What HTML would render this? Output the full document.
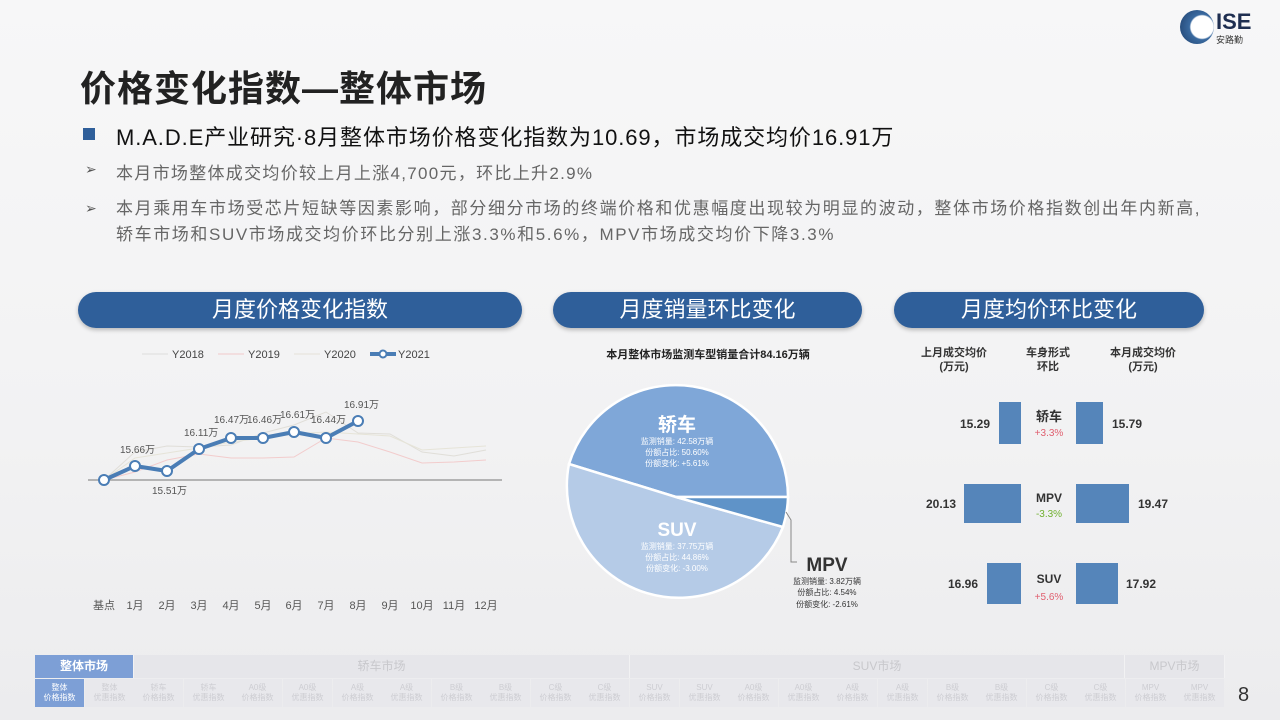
<!DOCTYPE html>
<html><head><meta charset="utf-8"><style>
*{margin:0;padding:0;box-sizing:border-box}
body{width:1280px;height:720px;overflow:hidden;background:linear-gradient(180deg,#f7f7f8 0%,#f2f2f3 60%,#ececee 100%);font-family:"Liberation Sans","Noto Sans CJK SC",sans-serif;position:relative;color:#333}
.a{position:absolute;white-space:nowrap}
.pill{position:absolute;height:36px;border-radius:18px;background:#2f5f9a;color:#fff;font-size:22px;text-align:center;line-height:36px;box-shadow:0 2px 4px rgba(0,0,0,.25)}
.nav1{position:absolute;top:655px;height:23px;font-size:12px;color:#c8c8cc;text-align:center;line-height:23px;background:#e6e6ea;border-right:1px solid #f2f2f3}
.nav2{position:absolute;top:679px;height:28px;width:49px;font-size:8px;line-height:10px;color:#cdcdd2;text-align:center;padding-top:4px;background:#e8e8ec}
</style></head><body>
<div class="a" style="left:80px;top:60px;font-size:36px;font-weight:bold;color:#222;letter-spacing:1px">价格变化指数—整体市场</div>
<div class="a" style="left:1180px;top:10px;width:34px;height:34px;border-radius:50%;background:radial-gradient(circle at 65% 50%,#fff 0 40%,#3a6aa0 45%,#1e3e6a 100%)"></div>
<div class="a" style="left:1216px;top:9px;font-size:22px;font-weight:bold;color:#1e2e50">ISE</div>
<div class="a" style="left:1216px;top:33px;font-size:9px;color:#333">安路勤</div>
<div class="a" style="left:83px;top:128px;width:12px;height:12px;background:#2f5f9a"></div>
<div class="a" style="left:116px;top:120px;font-size:22px;color:#111;letter-spacing:0.9px">M.A.D.E产业研究·8月整体市场价格变化指数为10.69，市场成交均价16.91万</div>
<div class="a" style="left:85px;top:161px;font-size:14px;color:#555">➢</div>
<div class="a" style="left:116px;top:159px;font-size:17px;color:#666;letter-spacing:1.3px">本月市场整体成交均价较上月上涨4,700元，环比上升2.9%</div>
<div class="a" style="left:85px;top:200px;font-size:14px;color:#555">➢</div>
<div class="a" style="left:116px;top:196px;font-size:17px;color:#666;line-height:26px;letter-spacing:1.6px">本月乘用车市场受芯片短缺等因素影响，部分细分市场的终端价格和优惠幅度出现较为明显的波动，整体市场价格指数创出年内新高,<br>轿车市场和SUV市场成交均价环比分别上涨3.3%和5.6%，MPV市场成交均价下降3.3%</div>
<div class="pill" style="left:78px;top:292px;width:444px">月度价格变化指数</div>
<div class="pill" style="left:553px;top:292px;width:309px">月度销量环比变化</div>
<div class="pill" style="left:894px;top:292px;width:310px">月度均价环比变化</div>

<svg class="a" style="left:0;top:0" width="1280" height="720">
<g font-size="11" fill="#444">
<line x1="142" y1="354" x2="168" y2="354" stroke="#ddd"/><text x="172" y="358">Y2018</text>
<line x1="218" y1="354" x2="244" y2="354" stroke="#f0caca"/><text x="248" y="358">Y2019</text>
<line x1="294" y1="354" x2="320" y2="354" stroke="#e6e2d8"/><text x="324" y="358">Y2020</text>
<line x1="370" y1="354" x2="396" y2="354" stroke="#4a7db5" stroke-width="4"/><circle cx="383" cy="354" r="3.5" fill="#fff" stroke="#4a7db5" stroke-width="2"/><text x="398" y="358">Y2021</text>
</g>
<line x1="88" y1="480" x2="502" y2="480" stroke="#777" stroke-width="1"/>
<polyline points="104,480 135,452 167,446 199,447 231,445 263,433 294,425 326,412 358,433 390,434 422,452 454,456 486,450" fill="none" stroke="#e0ded8" stroke-width="1"/>
<polyline points="104,480 135,472 167,460 199,454 231,458 263,458 294,457 326,438 358,442 390,452 422,463 454,462 486,460" fill="none" stroke="#f2cccc" stroke-width="1"/>
<polyline points="104,480 135,458 167,453 199,448 231,442 263,438 294,434 326,432 358,434 390,436 422,450 454,448 486,446" fill="none" stroke="#e6e4d8" stroke-width="1"/>
<polyline points="104,480 135,466 167,471 199,449 231,438 263,438 294,432 326,438 358,421" fill="none" stroke="#4a7db5" stroke-width="4" stroke-linejoin="round"/>
<g fill="#fff" stroke="#4a7db5" stroke-width="2">
<circle cx="104" cy="480" r="5"/><circle cx="135" cy="466" r="5"/><circle cx="167" cy="471" r="5"/><circle cx="199" cy="449" r="5"/><circle cx="231" cy="438" r="5"/><circle cx="263" cy="438" r="5"/><circle cx="294" cy="432" r="5"/><circle cx="326" cy="438" r="5"/><circle cx="358" cy="421" r="5"/></g>
<g font-size="10" fill="#555">
<text x="120" y="453">15.66万</text><text x="152" y="494">15.51万</text><text x="184" y="436">16.11万</text><text x="214" y="423">16.47万</text><text x="247" y="423">16.46万</text><text x="280" y="418">16.61万</text><text x="311" y="423">16.44万</text><text x="344" y="408">16.91万</text>
</g>
<g font-size="11" fill="#555" text-anchor="middle">
<text x="104" y="609">基点</text><text x="135" y="609">1月</text><text x="167" y="609">2月</text><text x="199" y="609">3月</text><text x="231" y="609">4月</text><text x="263" y="609">5月</text><text x="294" y="609">6月</text><text x="326" y="609">7月</text><text x="358" y="609">8月</text><text x="390" y="609">9月</text><text x="422" y="609">10月</text><text x="454" y="609">11月</text><text x="486" y="609">12月</text>
</g>
<text x="708" y="358" font-size="11" font-weight="bold" fill="#222" text-anchor="middle">本月整体市场监测车型销量合计84.16万辆</text>
<g stroke="#fff" stroke-width="2.5">
<path d="M676,497 L788,497 A112,112 0 0 0 569,464 Z" fill="#7fa7d8"/>
<path d="M676,497 L569,464 A112,112 0 0 0 783,527 Z" fill="#b5cbe7"/>
<path d="M676,497 L783,527 A112,112 0 0 0 788,497 Z" fill="#5f93c8"/>
</g>
<polyline points="786,512 791,520 791,562 797,562" fill="none" stroke="#888"/>
<g fill="#fff" text-anchor="middle">
<text x="677" y="431" font-size="19" font-weight="bold">轿车</text>
<text x="677" y="444" font-size="8">监测销量: 42.58万辆</text><text x="677" y="455" font-size="8">份额占比: 50.60%</text><text x="677" y="466" font-size="8">份额变化: +5.61%</text>
<text x="677" y="536" font-size="19" font-weight="bold">SUV</text>
<text x="677" y="549" font-size="8">监测销量: 37.75万辆</text><text x="677" y="560" font-size="8">份额占比: 44.86%</text><text x="677" y="571" font-size="8">份额变化: -3.00%</text>
</g>
<g fill="#333" text-anchor="middle">
<text x="827" y="571" font-size="19" font-weight="bold">MPV</text>
<text x="827" y="584" font-size="8">监测销量: 3.82万辆</text><text x="827" y="595" font-size="8">份额占比: 4.54%</text><text x="827" y="607" font-size="8">份额变化: -2.61%</text>
</g>
<g font-size="11" font-weight="bold" fill="#333" text-anchor="middle">
<text x="954" y="356">上月成交均价</text><text x="954" y="370">(万元)</text>
<text x="1048" y="356">车身形式</text><text x="1048" y="370">环比</text>
<text x="1143" y="356">本月成交均价</text><text x="1143" y="370">(万元)</text>
</g>
<g fill="#5585ba">
<rect x="999" y="402" width="22" height="42"/><rect x="1076" y="402" width="27" height="42"/>
<rect x="964" y="484" width="57" height="39"/><rect x="1076" y="484" width="53" height="39"/>
<rect x="987" y="563" width="34" height="41"/><rect x="1076" y="563" width="42" height="41"/>
</g>
<g font-size="12" font-weight="bold" fill="#333">
<text x="990" y="428" text-anchor="end">15.29</text><text x="1112" y="428">15.79</text>
<text x="956" y="508" text-anchor="end">20.13</text><text x="1138" y="508">19.47</text>
<text x="978" y="588" text-anchor="end">16.96</text><text x="1126" y="588">17.92</text>
</g>
<g text-anchor="middle">
<text x="1049" y="421" font-size="13" font-weight="bold" fill="#333">轿车</text><text x="1049" y="436" font-size="10" fill="#e06070">+3.3%</text>
<text x="1049" y="502" font-size="12" font-weight="bold" fill="#333">MPV</text><text x="1049" y="517" font-size="10" fill="#70b030">-3.3%</text>
<text x="1049" y="583" font-size="12" font-weight="bold" fill="#333">SUV</text><text x="1049" y="600" font-size="10" fill="#e06070">+5.6%</text>
</g>
</svg>

<div class="nav1" style="left:35px;width:99px;background:#7d9fd6;color:#fff;font-weight:bold">整体市场</div>
<div class="nav1" style="left:134px;width:496px">轿车市场</div>
<div class="nav1" style="left:630px;width:495px">SUV市场</div>
<div class="nav1" style="left:1125px;width:100px">MPV市场</div>
<div class="nav2" style="left:35px;background:#7d9fd6;color:#fff">整体<br>价格指数</div>
<div class="nav2" style="left:85px">整体<br>优惠指数</div>
<div class="nav2" style="left:134px">轿车<br>价格指数</div>
<div class="nav2" style="left:184px">轿车<br>优惠指数</div>
<div class="nav2" style="left:233px">A0级<br>价格指数</div>
<div class="nav2" style="left:283px">A0级<br>优惠指数</div>
<div class="nav2" style="left:333px">A级<br>价格指数</div>
<div class="nav2" style="left:382px">A级<br>优惠指数</div>
<div class="nav2" style="left:432px">B级<br>价格指数</div>
<div class="nav2" style="left:481px">B级<br>优惠指数</div>
<div class="nav2" style="left:531px">C级<br>价格指数</div>
<div class="nav2" style="left:580px">C级<br>优惠指数</div>
<div class="nav2" style="left:630px">SUV<br>价格指数</div>
<div class="nav2" style="left:680px">SUV<br>优惠指数</div>
<div class="nav2" style="left:729px">A0级<br>价格指数</div>
<div class="nav2" style="left:779px">A0级<br>优惠指数</div>
<div class="nav2" style="left:828px">A级<br>价格指数</div>
<div class="nav2" style="left:878px">A级<br>优惠指数</div>
<div class="nav2" style="left:928px">B级<br>价格指数</div>
<div class="nav2" style="left:977px">B级<br>优惠指数</div>
<div class="nav2" style="left:1027px">C级<br>价格指数</div>
<div class="nav2" style="left:1076px">C级<br>优惠指数</div>
<div class="nav2" style="left:1126px">MPV<br>价格指数</div>
<div class="nav2" style="left:1175px">MPV<br>优惠指数</div>
<div class="a" style="left:1238px;top:684px;font-size:20px;color:#333">8</div>
</body></html>
